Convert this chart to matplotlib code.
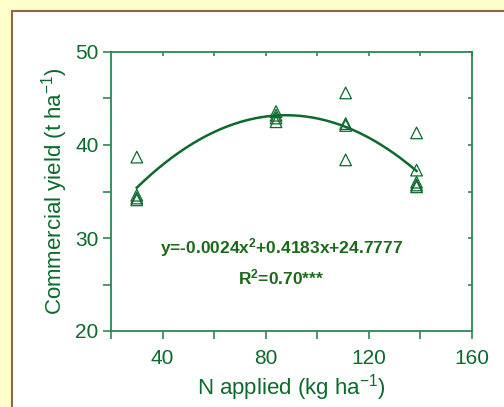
import matplotlib.pyplot as plt
import matplotlib.patches as patches
import numpy as np

plt.rcParams['font.family'] = ['Liberation Sans', 'DejaVu Sans']
plt.rcParams['mathtext.fontset'] = 'custom'
plt.rcParams['mathtext.rm'] = 'Liberation Sans'
plt.rcParams['mathtext.it'] = 'Liberation Sans'
plt.rcParams['mathtext.bf'] = 'Liberation Sans:bold'

# N rate (kg/ha) and commercial yield (t/ha)
n_rate = [30, 30, 30, 30,
          84, 84, 84, 84,
          111, 111, 111, 111,
          138.5, 138.5, 138.5, 138.5, 138.5]
yield_t = [38.7, 34.6, 34.3, 34.1,
           43.6, 43.2, 42.9, 42.5,
           45.6, 42.3, 42.1, 38.4,
           41.3, 37.3, 36.0, 35.7, 35.5]

eq_text = r'y=-0.0024x$^{\mathbf{2}}$+0.4183x+24.7777'
r2_text = r'R$^{\mathbf{2}}$=0.70***'

axis_col = '#2f8552'
text_col = '#0b6a2c'
eq_col = '#1a6a1a'

fig = plt.figure(figsize=(5.04, 4.07), dpi=100)
fig.patch.set_facecolor('#ffffcc')

# white panel with brown edge (runs off the right and bottom)
x0 = 12 / 504
y_top = 1 - 11 / 407
panel = patches.Rectangle((x0, -0.1), 1.2, y_top + 0.1, transform=fig.transFigure,
                          facecolor='white', edgecolor='#8b6b3d', linewidth=1.5,
                          zorder=0)
fig.patches.append(panel)

ax = fig.add_axes([111 / 504, 1 - 331 / 407, 361 / 504, 279 / 407])
ax.set_facecolor('none')
ax.set_zorder(2)

# quadratic fit through the points
coef = np.polyfit(n_rate, yield_t, 2)
xs = np.linspace(min(n_rate), max(n_rate), 200)
ax.plot(xs, np.polyval(coef, xs), color='#0b6a2c', lw=1.8)

ax.scatter(n_rate, yield_t, marker='^', s=70, facecolors='none',
           edgecolors='#0b6a2c', linewidths=0.9, zorder=3)

ax.set_xlim(20, 160)
ax.set_ylim(20, 50)
ax.set_xticks([40, 80, 120, 160])
ax.set_xticks([20, 60, 100, 140], minor=True)
ax.set_yticks([20, 30, 40, 50])
ax.set_yticks([25, 35, 45], minor=True)

for s in ax.spines.values():
    s.set_color(axis_col)
    s.set_linewidth(1.3)

ax.tick_params(which='both', direction='out', color=axis_col, width=1.2,
               labelsize=15, labelcolor=text_col, length=6)
ax.tick_params(axis='x', pad=7)
ax.tick_params(axis='y', pad=3)

# small inward ticks on top and right
top = ax.secondary_xaxis('top')
top.set_xticks([40, 60, 80, 100, 120, 140, 160], labels=[])
top.tick_params(direction='in', length=3, color=axis_col, width=1.2)
top.spines['top'].set_visible(False)
right = ax.secondary_yaxis('right')
right.set_yticks([25, 30, 35, 40, 45, 50], labels=[])
right.tick_params(direction='in', length=3, color=axis_col, width=1.2)
right.spines['right'].set_visible(False)

ax.set_xlabel('N applied (kg ha$^{-1}$)', fontsize=16, color=text_col, labelpad=3)
ax.set_ylabel('Commercial yield (t ha$^{-1}$)', fontsize=16, color=text_col, labelpad=4)

ax.text(86, 29.0, eq_text, ha='center', va='center', fontsize=12.5,
        fontweight='bold', color=eq_col)
ax.text(86, 25.8, r2_text, ha='center', va='center', fontsize=12.5,
        fontweight='bold', color=eq_col)

fig.savefig('out.png', dpi=100, facecolor=fig.get_facecolor())
